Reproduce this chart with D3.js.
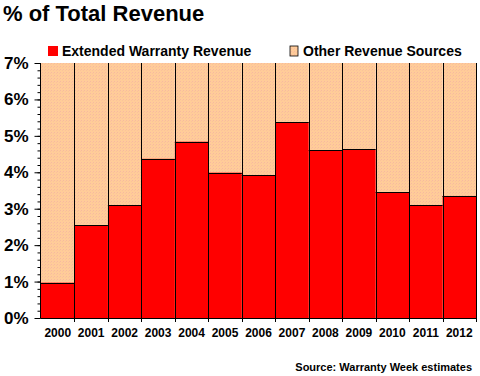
<!DOCTYPE html>
<html>
<head>
<meta charset="utf-8">
<script src="https://cdn.jsdelivr.net/npm/d3@7"></script>
<style>
  body { margin: 0; background: #fff; }
  text { font-family: Arial, "Liberation Sans", sans-serif; font-weight: bold; fill: #000; }
</style>
</head>
<body>
<div id="chart"></div>
<script>
/* DATA */
const years = ["2000", "2001", "2002", "2003", "2004", "2005", "2006", "2007", "2008", "2009", "2010", "2011", "2012"];
const warrantyShare = [0.97, 2.55, 3.10, 4.37, 4.84, 3.99, 3.92, 5.38, 4.61, 4.63, 3.45, 3.10, 3.35];
const yTicks = [0, 1, 2, 3, 4, 5, 6, 7];
const seriesNames = ["Extended Warranty Revenue", "Other Revenue Sources"];
const colors = ["#ff0000", "#ffcc99"];

const width = 480, height = 376;
const margin = { top: 63, right: 4, bottom: 58, left: 41 };

const svg = d3.select("#chart").append("svg")
  .attr("width", width)
  .attr("height", height);

// stippled peach fill
const defs = svg.append("defs");
const pat = defs.append("pattern")
  .attr("id", "stipple")
  .attr("patternUnits", "userSpaceOnUse")
  .attr("width", 3).attr("height", 3);
pat.append("rect").attr("width", 3).attr("height", 3).attr("fill", colors[1]);
pat.append("rect").attr("x", 0).attr("y", 0).attr("width", 1).attr("height", 1).attr("fill", "#f6b9a0");
pat.append("rect").attr("x", 2).attr("y", 1).attr("width", 1).attr("height", 1).attr("fill", "#fbc29a");

const x = d3.scaleBand()
  .domain(years)
  .range([margin.left, width - margin.right])
  .padding(0);

const y = d3.scaleLinear()
  .domain([0, 7])
  .range([height - margin.bottom, margin.top]);

// title
svg.append("text")
  .attr("x", 3).attr("y", 21)
  .style("font-size", "22px")
  .text("% of Total Revenue");

// legend
const legend = svg.append("g");
const legendX = [48, 290];
seriesNames.forEach((name, i) => {
  legend.append("rect")
    .attr("x", legendX[i]).attr("y", 46)
    .attr("width", i === 0 ? 10 : 8).attr("height", 10)
    .attr("fill", i === 0 ? colors[0] : "url(#stipple)")
    .attr("stroke", i === 0 ? "none" : "#000")
    .attr("stroke-width", 0.8);
  legend.append("text")
    .attr("x", legendX[i] + (i === 0 ? 14 : 13)).attr("y", 55.5)
    .style("font-size", "14px")
    .text(name);
});

// background (other revenue) columns
svg.append("g")
  .selectAll("rect")
  .data(years)
  .join("rect")
  .attr("x", d => x(d))
  .attr("y", y(7))
  .attr("width", x.bandwidth())
  .attr("height", y(0) - y(7))
  .attr("fill", "url(#stipple)");

// warranty bars
svg.append("g")
  .selectAll("rect")
  .data(years)
  .join("rect")
  .attr("x", (d) => x(d))
  .attr("y", (d, i) => y(warrantyShare[i]))
  .attr("width", x.bandwidth())
  .attr("height", (d, i) => y(0) - y(warrantyShare[i]))
  .attr("fill", colors[0]);

// tops of warranty bars
svg.append("g")
  .selectAll("line")
  .data(years)
  .join("line")
  .attr("x1", d => x(d))
  .attr("x2", d => x(d) + x.bandwidth())
  .attr("y1", (d, i) => Math.round(y(warrantyShare[i])) + 0.5)
  .attr("y2", (d, i) => Math.round(y(warrantyShare[i])) + 0.5)
  .attr("stroke", "#000")
  .attr("stroke-width", 1);

// dividers between columns
svg.append("g")
  .selectAll("line")
  .data(years)
  .join("line")
  .attr("x1", d => Math.round(x(d) + x.bandwidth()) + 0.5)
  .attr("x2", d => Math.round(x(d) + x.bandwidth()) + 0.5)
  .attr("y1", y(7))
  .attr("y2", y(0) + 4)
  .attr("stroke", "#000")
  .attr("stroke-width", 1);

// y axis with minor ticks
const yAxisG = svg.append("g")
  .attr("transform", `translate(${margin.left - 0.5},0)`);
yAxisG.call(d3.axisLeft(y).ticks(35).tickSize(3).tickFormat(""))
  .call(g => g.select(".domain").remove());
yAxisG.append("g")
  .call(d3.axisLeft(y).tickValues(yTicks).tickSize(6).tickFormat(d => d + "%"))
  .call(g => g.selectAll("text")
    .attr("x", -12)
    .style("font-size", "17px")
    .style("font-family", "Arial, 'Liberation Sans', sans-serif")
    .style("font-weight", "bold"))
  .call(g => g.select(".domain").attr("d", `M0,${y(7)}V${y(0)}`));

// x axis
svg.append("line")
  .attr("x1", margin.left - 0.5).attr("x2", width - margin.right)
  .attr("y1", y(0) + 0.5).attr("y2", y(0) + 0.5)
  .attr("stroke", "#000");

svg.append("g")
  .selectAll("text")
  .data(years)
  .join("text")
  .attr("x", d => x(d) + x.bandwidth() / 2)
  .attr("y", y(0) + 19)
  .attr("text-anchor", "middle")
  .style("font-size", "12px")
  .text(d => d);

// source
svg.append("text")
  .attr("x", 472).attr("y", 371)
  .attr("text-anchor", "end")
  .style("font-size", "11px")
  .style("letter-spacing", "0px")
  .text("Source: Warranty Week estimates");
</script>
</body>
</html>
